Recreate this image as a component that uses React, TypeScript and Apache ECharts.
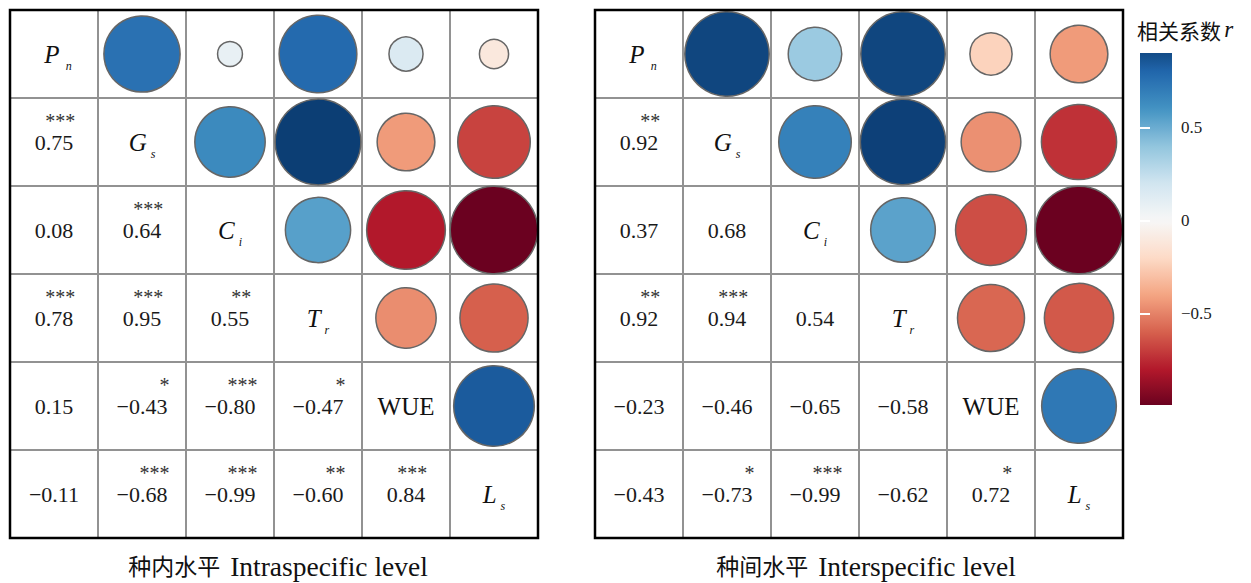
import React, { useEffect, useRef } from 'react';
import * as echarts from 'echarts';

// ---------- data ----------
const variables = ['Pn', 'Gs', 'Ci', 'Tr', 'WUE', 'Ls'];
const labelMain = ['P', 'G', 'C', 'T', 'WUE', 'L'];
const labelSub = ['n', 's', 'i', 'r', '', 's'];

// lower triangle: row i holds correlations with columns 0..i-1
const intraR = [
  [],
  [0.75],
  [0.08, 0.64],
  [0.78, 0.95, 0.55],
  [0.15, -0.43, -0.8, -0.47],
  [-0.11, -0.68, -0.99, -0.6, 0.84],
];
const intraSig = [
  [],
  ['***'],
  ['', '***'],
  ['***', '***', '**'],
  ['', '*', '***', '*'],
  ['', '***', '***', '**', '***'],
];
const interR = [
  [],
  [0.92],
  [0.37, 0.68],
  [0.92, 0.94, 0.54],
  [-0.23, -0.46, -0.65, -0.58],
  [-0.43, -0.73, -0.99, -0.62, 0.72],
];
const interSig = [
  [],
  ['**'],
  ['', ''],
  ['**', '***', ''],
  ['', '', '', ''],
  ['', '*', '***', '', '*'],
];
const panelTitleZh = ['种内水平', '种间水平'];
const panelTitleEn = ['Intraspecific level', 'Interspecific level'];
const colorbarTitle = '相关系数';
const colorbarRange = [-0.99, 0.9];
const colorbarTicks = [-0.5, 0, 0.5];
const rdbu = ['#67001f', '#b2182b', '#d6604d', '#f4a582', '#fddbc7', '#f7f7f7', '#d1e5f0', '#92c5de', '#4393c3', '#2166ac', '#053061'];

// ---------- helpers ----------
const CELL = 88;
const SERIF = 'Liberation Serif';
const CJK = 'Noto Sans CJK SC';

let measureCtx: CanvasRenderingContext2D | null = null;
function textWidth(s: string, size: number, italic: boolean, family = SERIF): number {
  if (!measureCtx) measureCtx = document.createElement('canvas').getContext('2d');
  if (!measureCtx) return s.length * size * 0.5;
  measureCtx.font = `${italic ? 'italic ' : ''}${size}px "${family}"`;
  return measureCtx.measureText(s).width;
}
const fmt = (v: number) => v.toFixed(2).replace('-', '\u2212');

function hexToRgb(h: string) {
  return [parseInt(h.slice(1, 3), 16), parseInt(h.slice(3, 5), 16), parseInt(h.slice(5, 7), 16)];
}
function rdbuColor(v: number): string {
  const t = Math.max(0, Math.min(1, (v + 1) / 2)) * (rdbu.length - 1);
  const i = Math.min(rdbu.length - 2, Math.floor(t));
  const f = t - i;
  const a = hexToRgb(rdbu[i]);
  const b = hexToRgb(rdbu[i + 1]);
  const c = a.map((x, k) => Math.round(x + (b[k] - x) * f));
  return `rgb(${c[0]},${c[1]},${c[2]})`;
}

type Cell = { kind: 'num' | 'diag'; x: number; y: number; r: number; sig: string };

function buildCells(R: number[][], S: string[][]): Cell[] {
  const cells: Cell[] = [];
  for (let i = 0; i < variables.length; i++) {
    cells.push({ kind: 'diag', x: i, y: i, r: 0, sig: '' });
    for (let j = 0; j < i; j++) cells.push({ kind: 'num', x: j, y: i, r: R[i][j], sig: S[i][j] });
  }
  return cells;
}
function buildCircles(R: number[][]): number[][] {
  const out: number[][] = [];
  for (let i = 0; i < variables.length; i++)
    for (let j = i + 1; j < variables.length; j++) out.push([j, i, R[j][i]]);
  return out;
}

function txtStyle(text: string, size: number, italic: boolean, align: string, fill = '#111', lineHeight?: number) {
  const s: any = {
    text, fontSize: size, fontFamily: SERIF, fontStyle: italic ? 'italic' : 'normal', fill,
    align, verticalAlign: 'middle', textAlign: align, textVerticalAlign: 'middle',
  };
  if (lineHeight) s.lineHeight = lineHeight;
  return s;
}

function makeRenderer(cells: Cell[]) {
  return (params: any, api: any) => {
    const c = cells[params.dataIndex];
    const p = api.coord([api.value(0), api.value(1)]);
    const cx = p[0];
    const cy = p[1];
    if (c.kind === 'diag') {
      const main = labelMain[c.x];
      const sub = labelSub[c.x];
      if (!sub) {
        return { type: 'text', x: cx, y: cy, style: txtStyle(main, 25, false, 'center') };
      }
      const mw = textWidth(main, 25, true);
      const sw = textWidth(sub, 12, true);
      const gap = main === 'P' ? 6 : 4;
      const x0 = cx - (mw + gap + sw) / 2 + (main === 'P' ? 4 : 0);
      return {
        type: 'group',
        children: [
          { type: 'text', x: x0, y: cy, style: txtStyle(main, 25, true, 'left') },
          { type: 'text', x: x0 + mw + gap, y: cy + 12, style: txtStyle(sub, 12, true, 'left') },
        ],
      };
    }
    const txt = fmt(c.r);
    const w = textWidth(txt, 22, false);
    const children: any[] = [
      { type: 'text', x: cx, y: cy, style: txtStyle(txt, 22, false, 'center', '#1a1a1a', 20) },
    ];
    if (c.sig) {
      children.push({ type: 'text', x: cx + w / 2 + 2, y: cy - 21, style: txtStyle(c.sig, 20, false, 'right', '#333', 14) });
    }
    return { type: 'group', children };
  };
}

export default function App() {
  const ref = useRef<HTMLDivElement>(null);
  useEffect(() => {
    if (!ref.current) return;
    const chart = echarts.init(ref.current, null, { renderer: 'svg' });

    const panels = [
      { R: intraR, S: intraSig, left: 10 },
      { R: interR, S: interSig, left: 595 },
    ];
    const grids: any[] = [];
    const xAxes: any[] = [];
    const yAxes: any[] = [];
    const series: any[] = [];
    const catAxis = (gi: number) => ({
      type: 'category', gridIndex: gi, data: variables, boundaryGap: true,
      axisLine: { show: false }, axisTick: { show: false }, axisLabel: { show: false },
      splitLine: { show: true, interval: 0, lineStyle: { color: '#929292', width: 2 } },
    });
    panels.forEach((p, gi) => {
      grids.push({ left: p.left, top: 10, width: CELL * 6, height: CELL * 6, show: true, borderColor: '#000', borderWidth: 2.5, backgroundColor: 'transparent', z: 10 });
      xAxes.push(catAxis(gi));
      yAxes.push({ ...catAxis(gi), inverse: true });
      const cells = buildCells(p.R, p.S);
      series.push({
        type: 'scatter', xAxisIndex: gi, yAxisIndex: gi,
        data: buildCircles(p.R),
        symbol: 'circle',
        symbolSize: (v: number[]) => CELL * Math.sqrt(Math.abs(v[2])),
        itemStyle: { borderColor: '#666', borderWidth: 1.5, opacity: 1 },
        emphasis: { disabled: true },
        z: 2,
      });
      series.push({
        type: 'custom', xAxisIndex: gi, yAxisIndex: gi,
        data: cells.map((c) => [c.x, c.y, c.r]),
        encode: { x: 0, y: 1 },
        renderItem: makeRenderer(cells),
        clip: false,
        z: 3,
      });
    });

    // colorbar grid
    grids.push({ left: 1140, top: 53, width: 32, height: 352 });
    xAxes.push({ type: 'value', gridIndex: 2, min: 0, max: 1, show: false });
    const tickCommon = {
      show: true, inside: true, length: 10, customValues: colorbarTicks,
      lineStyle: { color: '#ffffff', width: 2 },
    };
    yAxes.push({
      type: 'value', gridIndex: 2, min: colorbarRange[0], max: colorbarRange[1], position: 'right', z: 5,
      axisLine: { show: false }, splitLine: { show: false },
      axisTick: tickCommon,
      axisLabel: {
        show: true, margin: 9, customValues: colorbarTicks, fontFamily: SERIF, fontSize: 17, color: '#222',
        formatter: (v: number) => (v === 0 ? '0' : String(v).replace('-', '\u2212')),
      },
    });
    yAxes.push({
      type: 'value', gridIndex: 2, min: colorbarRange[0], max: colorbarRange[1], position: 'left', z: 5,
      axisLine: { show: false }, splitLine: { show: false }, axisLabel: { show: false },
      axisTick: tickCommon,
    });
    series.push({
      type: 'custom', xAxisIndex: 2, yAxisIndex: 3,
      data: [[0, colorbarRange[0], colorbarRange[1]]],
      renderItem: (params: any, api: any) => {
        const lo = api.value(1);
        const hi = api.value(2);
        const pTop = api.coord([0, hi]);
        const pBot = api.coord([1, lo]);
        const N = 60;
        const stops = [];
        for (let k = 0; k <= N; k++) {
          const v = hi - ((hi - lo) * k) / N;
          stops.push({ offset: k / N, color: rdbuColor(v) });
        }
        return {
          type: 'rect',
          shape: { x: pTop[0], y: pTop[1], width: pBot[0] - pTop[0], height: pBot[1] - pTop[1] },
          style: { fill: new echarts.graphic.LinearGradient(0, 0, 0, 1, stops) },
        };
      },
      clip: false,
      z: 2,
    });

    // panel titles: Chinese part + English part side by side
    const titleGraphics: any[] = [];
    [278, 866].forEach((tcx, k) => {
      const cw = textWidth(panelTitleZh[k], 23, false, CJK);
      const ew = textWidth(panelTitleEn[k], 27.5, false, SERIF);
      const gap = 10;
      const x0 = tcx - (cw + gap + ew) / 2;
      titleGraphics.push({
        type: 'text', x: x0, y: 565,
        style: { text: panelTitleZh[k], fontFamily: CJK, fontSize: 23, fill: '#111', lineHeight: 22, align: 'left', verticalAlign: 'middle', textAlign: 'left', textVerticalAlign: 'middle' },
      });
      titleGraphics.push({
        type: 'text', x: x0 + cw + gap, y: 566,
        style: { text: panelTitleEn[k], fontFamily: SERIF, fontSize: 27.5, fill: '#111', lineHeight: 22, align: 'left', verticalAlign: 'middle', textAlign: 'left', textVerticalAlign: 'middle' },
      });
    });

    const option: any = {
      animation: false,
      backgroundColor: '#fff',
      grid: grids,
      xAxis: xAxes,
      yAxis: yAxes,
      visualMap: [{
        type: 'continuous', show: false, seriesIndex: [0, 2], dimension: 2,
        min: -1, max: 1, inRange: { color: rdbu },
      }],
      series,
      graphic: [
        {
          type: 'text', left: 1137, top: 18,
          style: {
            text: `{c|${colorbarTitle}} {r|r}`,
            rich: {
              c: { fontFamily: CJK, fontSize: 21, fill: '#111', lineHeight: 24 },
              r: { fontFamily: SERIF, fontStyle: 'italic', fontSize: 23, fill: '#111', lineHeight: 24 },
            },
          },
        },
        ...titleGraphics,
      ],
    };
    chart.setOption(option);
    return () => chart.dispose();
  }, []);
  return <div ref={ref} style={{ position: 'fixed', left: 0, top: 0, width: 1251, height: 583 }} />;
}
